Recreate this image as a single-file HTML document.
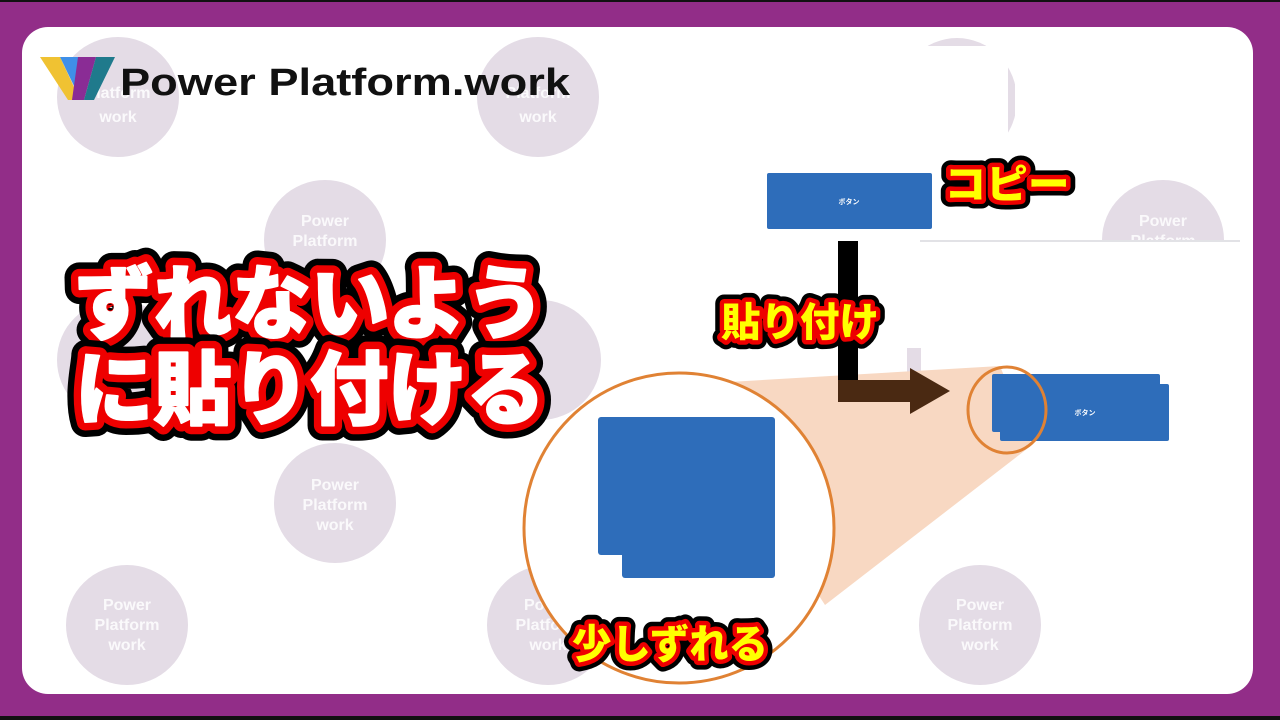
<!DOCTYPE html>
<html><head><meta charset="utf-8">
<style>
html,body{margin:0;padding:0;}
body{width:1280px;height:720px;background:#922d88;position:relative;overflow:hidden;font-family:"Liberation Sans","Noto Sans CJK JP",sans-serif;}
.topbar{position:absolute;left:0;top:0;width:1280px;height:2px;background:#111;}
.botbar{position:absolute;left:0;top:716px;width:1280px;height:4px;background:#111;}
.card{position:absolute;left:22px;top:27px;width:1231px;height:667px;background:#fff;border-radius:26px;overflow:hidden;}
svg{position:absolute;left:0;top:0;}
</style></head><body>
<div class="topbar"></div>
<div class="card"></div>
<div class="botbar"></div>
<svg width="1280" height="720" viewBox="0 0 1280 720" font-family="'Liberation Sans','Noto Sans CJK JP',sans-serif">
<defs><clipPath id="cc"><rect x="22" y="27" width="1231" height="667" rx="26"/></clipPath></defs>
<g clip-path="url(#cc)">
<g fill="#e4dce6">
<ellipse cx="118" cy="97" rx="61" ry="60"/>
<ellipse cx="538" cy="97" rx="61" ry="60"/>
<ellipse cx="325" cy="240" rx="61" ry="60"/>
<ellipse cx="1163" cy="240" rx="61" ry="60"/>
<ellipse cx="540" cy="360" rx="61" ry="60"/>
<ellipse cx="118" cy="360" rx="61" ry="60"/>
<ellipse cx="335" cy="503" rx="61" ry="60"/>
<ellipse cx="127" cy="625" rx="61" ry="60"/>
<ellipse cx="548" cy="625" rx="61" ry="60"/>
<ellipse cx="980" cy="625" rx="61" ry="60"/>
<ellipse cx="957" cy="100" rx="60" ry="62"/>
</g>
<g fill="#fff" font-size="16" font-weight="bold" text-anchor="middle" opacity="0.85">
<text x="118" y="98">Platform</text><text x="118" y="122">work</text>
<text x="538" y="98">Platform</text><text x="538" y="122">work</text>
<text x="325" y="226">Power</text><text x="325" y="246">Platform</text>
<text x="1163" y="226">Power</text><text x="1163" y="246">Platform</text>
<text x="335" y="490">Power</text><text x="335" y="510">Platform</text><text x="335" y="530">work</text>
<text x="127" y="610">Power</text><text x="127" y="630">Platform</text><text x="127" y="650">work</text>
<text x="548" y="610">Power</text><text x="548" y="630">Platform</text><text x="548" y="650">work</text>
<text x="980" y="610">Power</text><text x="980" y="630">Platform</text><text x="980" y="650">work</text>
</g>
<rect x="1015" y="36" width="90" height="134" fill="#fff"/>
<rect x="860" y="46" width="148" height="124" fill="#fff"/>
<rect x="920" y="242" width="320" height="320" fill="#fff"/>
<line x1="920" y1="241" x2="1240" y2="241" stroke="#e2e2e6" stroke-width="2"/>
<rect x="907" y="348" width="14" height="30" fill="#e4dce6"/>
<polygon points="712,383 1000,366 1032,445 825,605 770,520" fill="#f8d8c2"/>
<circle cx="679" cy="528" r="155" fill="#fff" stroke="#e08234" stroke-width="3"/>
<rect x="622" y="432" width="153" height="146" rx="3" fill="#2e6dba"/>
<rect x="598" y="417" width="177" height="138" rx="3" fill="#2e6dba"/>
<rect x="767" y="173" width="165" height="56" rx="2" fill="#2e6dba"/>
<text x="849" y="204" font-size="7" fill="#fff" text-anchor="middle" font-weight="bold">ボタン</text>
<rect x="838" y="241" width="20" height="140" fill="#000"/>
<rect x="838" y="380" width="74" height="22" fill="#4a2912"/>
<polygon points="910,368 950,391 910,414" fill="#4a2912"/>
<rect x="1000" y="384" width="169" height="57" rx="2" fill="#2e6dba"/>
<rect x="992" y="374" width="168" height="58" rx="2" fill="#2e6dba"/>
<text x="1085" y="415" font-size="7" fill="#fff" text-anchor="middle" font-weight="bold">ボタン</text>
<ellipse cx="1007" cy="410" rx="39" ry="43" fill="none" stroke="#e08234" stroke-width="3"/>
</g>
<polygon points="40,57 60,57 80,100 68,100" fill="#f0c232"/>
<polygon points="60,57 78,57 84,75 76,90" fill="#3f8fe8"/>
<polygon points="78,57 96,57 84,100 72,100" fill="#8a2c95"/>
<polygon points="96,57 115,57 94,100 84,100" fill="#1f7a8c"/>
<text x="120" y="95" font-size="38" font-weight="bold" fill="#111" font-family="'Liberation Sans',sans-serif" textLength="450" lengthAdjust="spacingAndGlyphs">Power Platform.work</text>
<g font-family="'Noto Sans CJK JP',sans-serif" font-weight="900" font-size="80" text-anchor="middle" stroke-linejoin="round">
<text x="310" y="332" fill="#000" stroke="#000" stroke-width="30" textLength="470" lengthAdjust="spacingAndGlyphs">ずれないよう</text>
<text x="310" y="332" fill="#e00" stroke="#e00" stroke-width="17" textLength="470" lengthAdjust="spacingAndGlyphs">ずれないよう</text>
<text x="310" y="332" fill="#fff" stroke="#fff" stroke-width="2" textLength="470" lengthAdjust="spacingAndGlyphs">ずれないよう</text>
<text x="310" y="418" fill="#000" stroke="#000" stroke-width="30" textLength="470" lengthAdjust="spacingAndGlyphs">に貼り付ける</text>
<text x="310" y="418" fill="#e00" stroke="#e00" stroke-width="17" textLength="470" lengthAdjust="spacingAndGlyphs">に貼り付ける</text>
<text x="310" y="418" fill="#fff" stroke="#fff" stroke-width="2" textLength="470" lengthAdjust="spacingAndGlyphs">に貼り付ける</text>
</g>
<g font-family="'Noto Sans CJK JP',sans-serif" font-weight="900" font-size="40" text-anchor="middle" stroke-linejoin="round">
<text x="1007" y="198" fill="#000" stroke="#000" stroke-width="18" textLength="125" lengthAdjust="spacingAndGlyphs">コピー</text>
<text x="1007" y="198" fill="#e00" stroke="#e00" stroke-width="9" textLength="125" lengthAdjust="spacingAndGlyphs">コピー</text>
<text x="1007" y="198" fill="#ff0" textLength="125" lengthAdjust="spacingAndGlyphs">コピー</text>
<text x="800" y="336" fill="#000" stroke="#000" stroke-width="18" textLength="158" lengthAdjust="spacingAndGlyphs">貼り付け</text>
<text x="800" y="336" fill="#e00" stroke="#e00" stroke-width="9" textLength="158" lengthAdjust="spacingAndGlyphs">貼り付け</text>
<text x="800" y="336" fill="#ff0" textLength="158" lengthAdjust="spacingAndGlyphs">貼り付け</text>
<text x="670" y="658" fill="#000" stroke="#000" stroke-width="18" textLength="196" lengthAdjust="spacingAndGlyphs">少しずれる</text>
<text x="670" y="658" fill="#e00" stroke="#e00" stroke-width="9" textLength="196" lengthAdjust="spacingAndGlyphs">少しずれる</text>
<text x="670" y="658" fill="#ff0" textLength="196" lengthAdjust="spacingAndGlyphs">少しずれる</text>
</g>
</svg>
</body></html>
